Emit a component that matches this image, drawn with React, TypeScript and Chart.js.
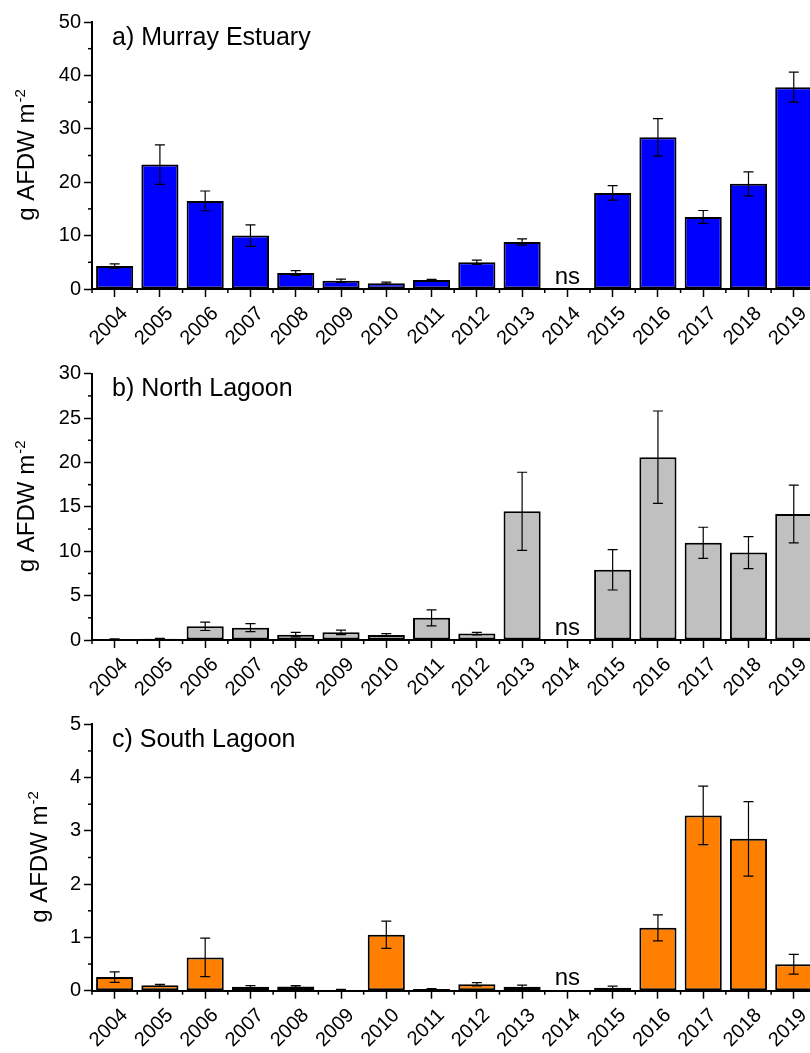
import React, { useEffect, useRef } from "react";
import { Chart, registerables } from "chart.js";

Chart.register(...registerables);

const FONT = "'Liberation Sans', Arial, sans-serif";

const years = ["2004", "2005", "2006", "2007", "2008", "2009", "2010", "2011", "2012", "2013", "2014", "2015", "2016", "2017", "2018", "2019"];

const murrayMean = [4.3, 23.3, 16.5, 10.0, 3.0, 1.55, 1.1, 1.7, 5.0, 8.8, null, 18.0, 28.4, 13.5, 19.7, 37.8];
const murrayErr = [0.4, 3.7, 1.85, 2.0, 0.45, 0.3, 0.2, 0.1, 0.4, 0.6, null, 1.35, 3.5, 1.2, 2.25, 2.8];

const northMean = [0.1, 0.15, 1.54, 1.39, 0.6, 0.86, 0.56, 2.5, 0.72, 14.5, null, 7.9, 20.6, 10.95, 9.85, 14.2];
const northErr = [0.02, 0.03, 0.47, 0.45, 0.25, 0.25, 0.15, 0.9, 0.15, 4.4, null, 2.27, 5.2, 1.75, 1.8, 3.25];

const southMean = [0.255, 0.1, 0.625, 0.075, 0.08, 0.015, 1.05, 0.03, 0.12, 0.075, null, 0.056, 1.18, 3.29, 2.85, 0.495];
const southErr = [0.1, 0.02, 0.36, 0.02, 0.015, 0.01, 0.255, 0.01, 0.03, 0.03, null, 0.03, 0.245, 0.55, 0.7, 0.185];

const missingLabel = "ns";
const yTitleMain = "g AFDW m";
const yTitleSup = "-2";

type PanelProps = {
  title: string;
  means: (number | null)[];
  errs: (number | null)[];
  color: string;
  yMax: number;
  step: number;
  top: number;
  height: number;
  padTop: number;
  xAxisHeight: number;
  yTitleX: number;
};

const CANVAS_W = 830;

function Panel(p: PanelProps) {
  const ref = useRef<HTMLCanvasElement | null>(null);
  useEffect(() => {
    const canvas = ref.current;
    if (!canvas) return;

    const decor = {
      id: "decor",
      afterDatasetsDraw(chart: any) {
        const ctx = chart.ctx;
        const xs = chart.scales.x;
        const ys = chart.scales.y;
        const meta = chart.getDatasetMeta(0);
        ctx.save();
        // error bars
        ctx.strokeStyle = "#000";
        ctx.lineWidth = 1.2;
        p.means.forEach((m, i) => {
          const e = p.errs[i];
          if (m == null || e == null) return;
          const x = meta.data[i].x;
          const y1 = ys.getPixelForValue(m + e);
          const y2 = ys.getPixelForValue(Math.max(m - e, 0));
          ctx.beginPath();
          ctx.moveTo(x, y1);
          ctx.lineTo(x, y2);
          ctx.moveTo(x - 5, y1);
          ctx.lineTo(x + 5, y1);
          ctx.moveTo(x - 5, y2);
          ctx.lineTo(x + 5, y2);
          ctx.stroke();
        });
        // minor ticks y
        ctx.lineWidth = 1.5;
        const ax = ys.right;
        for (let v = p.step / 2; v < p.yMax; v += p.step) {
          const y = ys.getPixelForValue(v);
          ctx.beginPath();
          ctx.moveTo(ax, y);
          ctx.lineTo(ax - 4, y);
          ctx.stroke();
        }
        // minor ticks x (category boundaries)
        const by = xs.top;
        for (let i = 0; i <= years.length; i++) {
          const x = i === 0 ? xs.left : i === years.length ? xs.right : (xs.getPixelForValue(i - 1) + xs.getPixelForValue(i)) / 2;
          ctx.beginPath();
          ctx.moveTo(x, by);
          ctx.lineTo(x, by + 4);
          ctx.stroke();
        }
        // ns labels
        ctx.fillStyle = "#000";
        ctx.font = `24px ${FONT}`;
        ctx.textAlign = "center";
        ctx.textBaseline = "alphabetic";
        p.means.forEach((m, i) => {
          if (m == null) {
            ctx.fillText(missingLabel, xs.getPixelForValue(i), ys.bottom - 5.5);
          }
        });
        // panel title
        ctx.textAlign = "left";
        ctx.font = `25px ${FONT}`;
        ctx.fillText(p.title, 112, chart.chartArea.top + 22.5);
        // y axis title with superscript
        const cy = (chart.chartArea.top + chart.chartArea.bottom) / 2;
        ctx.font = `24px ${FONT}`;
        const wMain = ctx.measureText(yTitleMain).width;
        ctx.font = `15px ${FONT}`;
        const wSup = ctx.measureText(yTitleSup).width;
        const total = wMain + wSup;
        ctx.translate(p.yTitleX, cy);
        ctx.rotate(-Math.PI / 2);
        ctx.font = `24px ${FONT}`;
        ctx.fillText(yTitleMain, -total / 2, 0);
        ctx.font = `15px ${FONT}`;
        ctx.fillText(yTitleSup, -total / 2 + wMain + 1, -9);
        ctx.restore();
      },
    };

    const chart = new Chart(canvas, {
      type: "bar",
      data: {
        labels: years,
        datasets: [
          {
            data: p.means as any,
            backgroundColor: p.color,
            borderColor: "#000",
            borderWidth: 2,
            borderSkipped: false,
            categoryPercentage: 1,
            barPercentage: 0.82,
          },
        ],
      },
      options: {
        animation: false,
        responsive: false,
        maintainAspectRatio: false,
        layout: { padding: { top: p.padTop, right: CANVAS_W - 816.4, left: 0, bottom: 0 } },
        plugins: { legend: { display: false }, tooltip: { enabled: false }, title: { display: false } },
        scales: {
          x: {
            type: "category",
            offset: true,
            grid: { display: true, drawOnChartArea: false, drawTicks: true, tickLength: 8, tickWidth: 1.5, tickColor: "#000", offset: false },
            border: { display: true, color: "#000", width: 2 },
            ticks: { autoSkip: false, minRotation: 45, maxRotation: 45, color: "#000", font: { size: 20, family: FONT }, padding: 5, labelOffset: 10 },
            afterFit: (s: any) => {
              s.height = p.xAxisHeight;
            },
          },
          y: {
            min: 0,
            max: p.yMax,
            grid: { display: true, drawOnChartArea: false, drawTicks: true, tickLength: 8, tickWidth: 1.5, tickColor: "#000" },
            border: { display: true, color: "#000", width: 2 },
            ticks: { stepSize: p.step, color: "#000", font: { size: 20, family: FONT }, padding: 3 },
            afterFit: (s: any) => {
              s.width = 92;
            },
          },
        },
      },
      plugins: [decor],
    });
    return () => chart.destroy();
  }, []);
  return (
    <canvas
      ref={ref}
      width={CANVAS_W}
      height={p.height}
      style={{ position: "absolute", left: 0, top: p.top, width: CANVAS_W, height: p.height }}
    />
  );
}

export default function App() {
  return (
    <div style={{ position: "absolute", left: 0, top: 0, width: 810, height: 1053, overflow: "hidden", background: "#fff" }}>
      <Panel title="a) Murray Estuary" means={murrayMean} errs={murrayErr} color="#0000FF" yMax={50} step={10} top={0} height={345} padTop={22} xAxisHeight={56} yTitleX={33.5} />
      <Panel title="b) North Lagoon" means={northMean} errs={northErr} color="#C0C0C0" yMax={30} step={5} top={345} height={352} padTop={28.7} xAxisHeight={57} yTitleX={33.5} />
      <Panel title="c) South Lagoon" means={southMean} errs={southErr} color="#FF8000" yMax={5} step={1} top={697} height={356} padTop={27.3} xAxisHeight={62.3} yTitleX={46.5} />
    </div>
  );
}
